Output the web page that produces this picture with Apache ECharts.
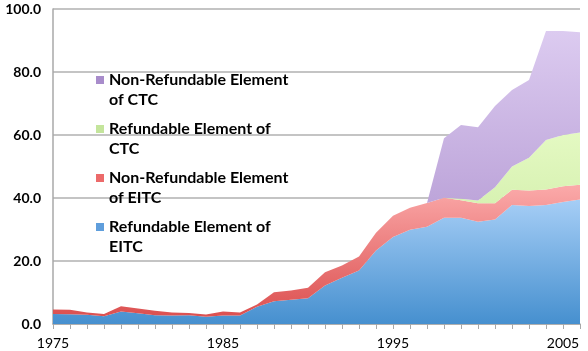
<!DOCTYPE html>
<html>
<head>
    <meta charset="utf-8">
    <title>EITC and CTC</title>
    <script src="https://cdn.jsdelivr.net/npm/echarts@6.0.0/dist/echarts.min.js"></script>
    <style>
        body { margin: 0; padding: 0; background: #fff; }
    </style>
</head>
<body>
    <div id="main" style="width: 588px;height:351px;"></div>
    <script type="text/javascript">
        // years on the x axis
        var years = [];
        for (var y = 1975; y <= 2006; y++) years.push(String(y));

        // stacked values (billions)
        var refundableEITC = [3.2, 3.1, 2.9, 2.5, 4.0, 3.4, 2.8, 2.7, 2.8, 2.3,
            2.7, 2.7, 5.5, 7.2, 7.7, 8.2, 12.2, 14.7, 17.0, 23.3,
            27.6, 29.9, 30.9, 33.7, 33.7, 32.5, 33.2, 37.8, 37.5, 37.8,
            38.7, 39.5];
        var nonRefundableEITC = [1.4, 1.4, 0.75, 0.7, 1.6, 1.5, 1.4, 0.95, 0.7, 0.7,
            1.3, 0.95, 0.7, 2.9, 2.9, 3.3, 4.2, 3.9, 4.4, 5.7,
            6.8, 7.0, 7.5, 6.4, 5.6, 5.8, 5.1, 4.8, 4.9, 4.9,
            5.0, 4.7];
        var refundableCTC = [0, 0, 0, 0, 0, 0, 0, 0, 0, 0,
            0, 0, 0, 0, 0, 0, 0, 0, 0, 0,
            0, 0, 0, 0, 0.5, 0.9, 5.1, 7.4, 10.4, 15.7,
            16.3, 16.6];
        var nonRefundableCTC = [0, 0, 0, 0, 0, 0, 0, 0, 0, 0,
            0, 0, 0, 0, 0, 0, 0, 0, 0, 0,
            0, 0, 0, 18.9, 23.4, 23.3, 25.8, 24.3, 24.7, 34.6,
            33.0, 31.8];

        var yTicks = [0, 20, 40, 60, 80, 100];

        var myChart = echarts.init(document.getElementById('main'));

        function grad(top, bottom) {
            return new echarts.graphic.LinearGradient(0, 0, 0, 1, [
                { offset: 0, color: top },
                { offset: 1, color: bottom }
            ]);
        }

        // icon = colour of the legend square
        function areaSeries(name, data, top, bottom, icon) {
            return {
                name: name,
                type: 'line',
                stack: 'total',
                data: data,
                showSymbol: false,
                symbol: 'none',
                lineStyle: { width: 0 },
                itemStyle: { color: icon },
                areaStyle: { color: grad(top, bottom), opacity: 1 }
            };
        }

        var option = {
            animation: false,
            textStyle: { fontFamily: 'Lato' },
            grid: { left: 53, right: 8, top: 9, bottom: 27, containLabel: false },
            legend: {
                orient: 'vertical',
                left: 96,
                top: 50,
                padding: 0,
                itemGap: -11,
                itemWidth: 8,
                itemHeight: 8,
                icon: 'rect',
                data: ['Non-Refundable Element\nof CTC', 'Refundable Element of\nCTC',
                    'Non-Refundable Element\nof EITC', 'Refundable Element of\nEITC'],
                // blank first line so the icon sits beside the first text line
                formatter: function (name) { return '\n' + name; },
                textStyle: {
                    fontFamily: 'Lato',
                    fontWeight: 'bold',
                    fontSize: 16,
                    color: '#000',
                    lineHeight: 20
                }
            },
            xAxis: {
                type: 'category',
                data: years,
                boundaryGap: false,
                axisLine: { lineStyle: { color: '#a8a8a8', width: 1.5 } },
                axisTick: { interval: 0, length: 5, lineStyle: { color: '#a8a8a8' } },
                axisLabel: { interval: 9, color: '#000', fontSize: 14, margin: 12 },
                splitLine: { show: false }
            },
            yAxis: {
                type: 'value',
                min: yTicks[0],
                max: yTicks[yTicks.length - 1],
                interval: 20,
                axisLine: { show: true, lineStyle: { color: '#a8a8a8', width: 1.5 } },
                axisTick: { show: false },
                axisLabel: {
                    color: '#000', fontWeight: 'bold', fontSize: 14, margin: 12,
                    formatter: function (v) { return v.toFixed(1); }
                },
                splitLine: { lineStyle: { color: '#c4c4c4', width: 2 } }
            },
            series: [
                areaSeries('Refundable Element of\nEITC', refundableEITC, '#a6cef6', '#4690cf', '#5f9edc'),
                areaSeries('Non-Refundable Element\nof EITC', nonRefundableEITC, '#fbaaaa', '#dc5050', '#ec6a6a'),
                areaSeries('Refundable Element of\nCTC', refundableCTC, '#e4f9c2', '#c4e69a', '#c4e59c'),
                areaSeries('Non-Refundable Element\nof CTC', nonRefundableCTC, '#dccbf0', '#a98ccb', '#a88ccb')
            ]
        };

        myChart.setOption(option);
    </script>
</body>
</html>
